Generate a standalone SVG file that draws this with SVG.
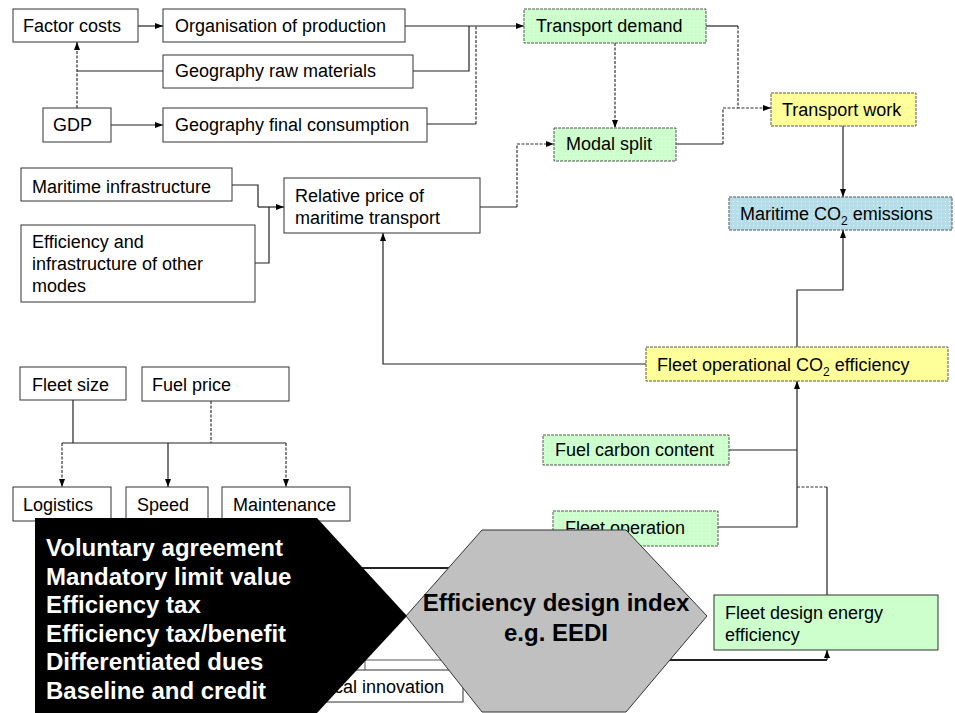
<svg xmlns="http://www.w3.org/2000/svg" width="955" height="713" viewBox="0 0 955 713">
<defs>
<style>
.box{fill:#fff;stroke:#333;stroke-width:1}
.g{fill:url(#pg);stroke:#555;stroke-width:1;stroke-dasharray:3 1}
.y{fill:url(#py);stroke:#555;stroke-width:1;stroke-dasharray:3 1}
.b{fill:url(#pb);stroke:#555;stroke-width:1;stroke-dasharray:3 1}
.t{font-family:"Liberation Sans",Arial,sans-serif;font-size:18px;fill:#000}
.w{font-family:"Liberation Sans",Arial,sans-serif;font-size:24px;font-weight:bold;fill:#fff}
.k{font-family:"Liberation Sans",Arial,sans-serif;font-size:24px;font-weight:bold;fill:#000}
.c{fill:none;stroke:#222;stroke-width:1.2}
.d{fill:none;stroke:#333;stroke-width:1.2;stroke-dasharray:3 1.5}
.a{marker-end:url(#arr)}
</style>
<marker id="arr" viewBox="0 0 8 8" refX="8" refY="4" markerWidth="8" markerHeight="8" markerUnits="userSpaceOnUse" orient="auto"><path d="M0,1 L8,4 L0,7 z" fill="#000"/></marker>
<pattern id="pg" width="4" height="4" patternUnits="userSpaceOnUse"><rect width="4" height="4" fill="#ccffcc"/><rect x="1" y="1" width="1" height="1" fill="#f0fff0"/></pattern>
<pattern id="py" width="4" height="4" patternUnits="userSpaceOnUse"><rect width="4" height="4" fill="#ffff99"/><rect x="1" y="1" width="1" height="1" fill="#ffffe0"/></pattern>
<pattern id="pb" width="4" height="4" patternUnits="userSpaceOnUse"><rect width="4" height="4" fill="#b7dde8"/><rect x="1" y="1" width="1" height="1" fill="#e6f4f8"/></pattern>
</defs>
<rect width="955" height="713" fill="#fff"/>

<g id="connectors">
<path class="c a" d="M138,26 H163"/>
<path class="c a" d="M111,125 H163"/>
<path class="d a" d="M77,108 V42"/>
<path class="c" d="M163,71 H77"/>
<path class="c a" d="M405,26 H524"/>
<path class="c" d="M413,71 H469 V26"/>
<path class="c" d="M427,124 H476"/>
<path class="d" d="M476,124 V26"/>
<path class="d a" d="M615,43 V128"/>
<path class="c" d="M706,26 H738"/>
<path class="d a" d="M738,26 V108 H771"/>
<path class="c" d="M676,144 H723"/>
<path class="d" d="M723,144 V108 H738"/>
<path class="c" d="M480,207 H517"/>
<path class="d a" d="M517,207 V144 H554"/>
<path class="c a" d="M843,126 V197"/>
<path class="c a" d="M797,347 V290 H843 V230"/>
<path class="c a" d="M646,364 H383 V233"/>
<path class="c" d="M232,185 H258 V207"/>
<path class="c a" d="M258,207 H284"/>
<path class="c" d="M255,263 H269 V207"/>
<path class="c" d="M73,400 V443"/>
<path class="d" d="M211,401 V443"/>
<path class="c" d="M62,443 H286"/>
<path class="d a" d="M62,443 V487"/>
<path class="c a" d="M168,443 V487"/>
<path class="d a" d="M286,443 V487"/>
<path class="c" d="M729,450 H797"/>
<path class="c a" d="M718,527 H797 V381"/>
<path class="c" d="M827,595 V487"/>
<path class="d" d="M827,487 H797"/>
<path fill="none" stroke="#222" stroke-width="2" d="M640,660 H827" />
<path class="c a" d="M827,660 V650"/>
<path fill="none" stroke="#222" stroke-width="2" d="M317,568 H460"/>
<path fill="none" stroke="#555" stroke-width="1" d="M365,660 H460 M365,660 V670"/>
</g>

<g id="factor-costs"><rect class="box" x="13" y="9" width="125" height="33"/><text class="t" x="23" y="32">Factor costs</text></g>
<g id="organisation-of-production"><rect class="box" x="163" y="9" width="242" height="33"/><text class="t" x="175" y="32">Organisation of production</text></g>
<g id="geography-raw-materials"><rect class="box" x="163" y="55" width="250" height="33"/><text class="t" x="175" y="77">Geography raw materials</text></g>
<g id="gdp"><rect class="box" x="43" y="108" width="68" height="34"/><text class="t" x="53" y="131">GDP</text></g>
<g id="geography-final-consumption"><rect class="box" x="163" y="108" width="264" height="34"/><text class="t" x="175" y="131">Geography final consumption</text></g>

<g id="transport-demand"><rect class="g" x="524" y="9" width="182" height="34"/><text class="t" x="536" y="32">Transport demand</text></g>
<g id="modal-split"><rect class="g" x="554" y="128" width="122" height="33"/><text class="t" x="566" y="150">Modal split</text></g>
<g id="transport-work"><rect class="y" x="771" y="93" width="145" height="33"/><text class="t" x="782" y="116">Transport work</text></g>
<g id="maritime-co2-emissions"><rect class="b" x="729" y="197" width="223" height="33"/><text class="t" x="740" y="220">Maritime CO<tspan font-size="12" dy="5">2</tspan><tspan dy="-5"> emissions</tspan></text></g>

<g id="maritime-infrastructure"><rect class="box" x="21" y="168" width="211" height="33"/><text class="t" x="32" y="193">Maritime infrastructure</text></g>
<g id="efficiency-other-modes"><rect class="box" x="21" y="225" width="234" height="77"/><text class="t" x="32" y="248">Efficiency and</text><text class="t" x="32" y="270">infrastructure of other</text><text class="t" x="32" y="292">modes</text></g>
<g id="relative-price"><rect class="box" x="284" y="178" width="196" height="55"/><text class="t" x="295" y="202">Relative price of</text><text class="t" x="295" y="224">maritime transport</text></g>

<g id="fleet-operational-co2-efficiency"><rect class="y" x="646" y="347" width="302" height="34"/><text class="t" x="657" y="371">Fleet operational CO<tspan font-size="12" dy="5">2</tspan><tspan dy="-5"> efficiency</tspan></text></g>
<g id="fuel-carbon-content"><rect class="g" x="543" y="435" width="186" height="30"/><text class="t" x="555" y="456">Fuel carbon content</text></g>
<g id="fleet-operation"><rect class="g" x="553" y="511" width="165" height="35"/><text class="t" x="565" y="534">Fleet operation</text></g>
<g id="fleet-design-energy-efficiency"><rect fill="#ccffcc" stroke="#333" stroke-width="1" x="714" y="595" width="224" height="55"/><text class="t" x="725" y="619">Fleet design energy</text><text class="t" x="725" y="641">efficiency</text></g>

<g id="fleet-size"><rect class="box" x="20" y="367" width="106" height="33"/><text class="t" x="32" y="391">Fleet size</text></g>
<g id="fuel-price"><rect class="box" x="142" y="367" width="147" height="34"/><text class="t" x="152" y="391">Fuel price</text></g>
<g id="logistics"><rect class="box" x="13" y="487" width="98" height="34"/><text class="t" x="23" y="511">Logistics</text></g>
<g id="speed"><rect class="box" x="126" y="487" width="82" height="34"/><text class="t" x="137" y="511">Speed</text></g>
<g id="maintenance"><rect class="box" x="222" y="487" width="128" height="34"/><text class="t" x="233" y="511">Maintenance</text></g>

<g id="technical-innovation"><rect class="box" x="320" y="670" width="143" height="32"/><text class="t" x="334" y="693">cal innovation</text></g>

<g id="policy-instruments">
<polygon points="35,518 317,518 407,616 317,713 35,713" fill="#000"/>
<text class="w" x="46" y="556">Voluntary agreement</text>
<text class="w" x="46" y="584.5">Mandatory limit value</text>
<text class="w" x="46" y="613">Efficiency tax</text>
<text class="w" x="46" y="641.5">Efficiency tax/benefit</text>
<text class="w" x="46" y="670">Differentiated dues</text>
<text class="w" x="46" y="698.5">Baseline and credit</text>
</g>

<g id="efficiency-design-index">
<polygon points="482,530 626,530 707,616 626,712 482,712 406,616" fill="#c0c0c0" stroke="#333" stroke-width="1"/>
<text class="k" x="556" y="611" text-anchor="middle">Efficiency design index</text>
<text class="k" x="556" y="641" text-anchor="middle">e.g. EEDI</text>
</g>
</svg>
